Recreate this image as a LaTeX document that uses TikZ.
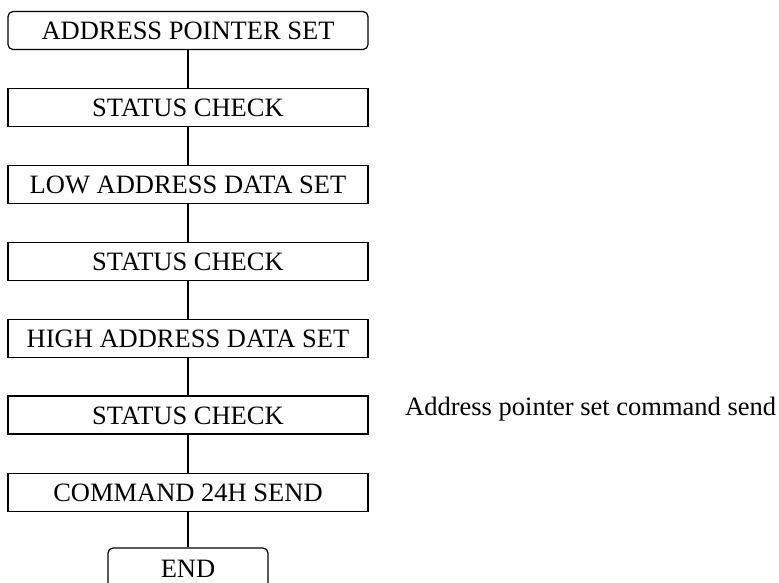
\documentclass[tikz,border=0pt]{standalone}
\usepackage{fontspec}
\setmainfont{Liberation Serif}
\usepackage{tikz}
\usetikzlibrary{positioning}

\tikzset{
  stepbox/.style={draw, line width=1.2pt, minimum width=360pt, minimum height=38pt,
    inner sep=0pt, text height=18pt, text depth=0pt, font=\fontsize{26.5}{30}\selectfont},
  termbox/.style={stepbox, rounded corners=5pt},
  link/.style={line width=1.2pt}
}

\begin{document}
\begin{tikzpicture}[x=1pt, y=1pt]
\clip (0,0) rectangle (779,-582);
\fill[white] (0,0) rectangle (779,-582);

% Flow steps
\node[termbox] (start) at (188,-30.5) {ADDRESS POINTER SET};
\node[stepbox] (chk1) at (188,-107.5) {STATUS CHECK};
\node[stepbox] (low) at (188,-184.5) {LOW ADDRESS DATA SET};
\node[stepbox] (chk2) at (188,-261.5) {STATUS CHECK};
\node[stepbox] (high) at (188,-338.5) {HIGH ADDRESS DATA SET};
\node[stepbox] (chk3) at (188,-415) {STATUS CHECK};
\node[stepbox] (cmd) at (188,-492.5) {COMMAND 24H SEND};
\node[termbox, minimum width=160pt, minimum height=40pt] (finish) at (188,-568) {END};

% Connectors
\draw[link] (start) -- (chk1);
\draw[link] (chk1) -- (low);
\draw[link] (low) -- (chk2);
\draw[link] (chk2) -- (high);
\draw[link] (high) -- (chk3);
\draw[link] (chk3) -- (cmd);
\draw[link] (cmd) -- (finish);

% Side note
\node[anchor=base west, inner sep=0pt, font=\fontsize{26.5}{30}\selectfont] (note) at (405,-415)
  {Address pointer set command send};
\end{tikzpicture}
\end{document}
